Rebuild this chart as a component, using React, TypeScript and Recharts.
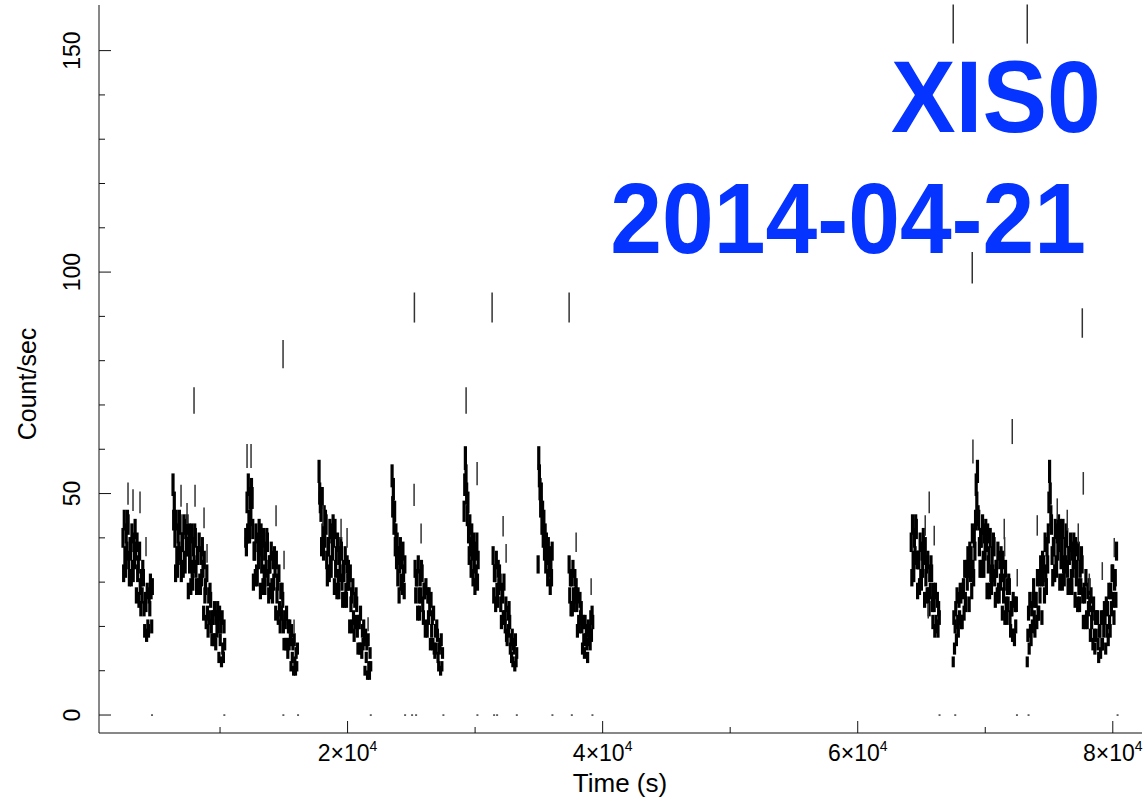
import React from "react";
import { ScatterChart, Scatter, XAxis, YAxis, ErrorBar } from "recharts";

// XIS0 light curve of 2014-04-21, rates every 50 s
const BIN_STEP = 50;
const BIN_SEC = 8; // exposure of one bin, sets the Poisson error bars

const seg1Start = 2392;
const seg1 = [40, 32, 44, 36, 33, 41, 37, 44, 43, 35, 31, 38, 37, 31, 41, 33, 32, 39, 35, 42,
  37, 27, 39, 32, 34, 26, 37, 29, 24, 31, 27, 33, 31, 24, 19, 26, 25, 18, 28, 20, 19, 27,
  24, 30, 28, 20, 29];

const seg2Start = 6314;
const seg2 = [52, 44, 48, 40, 32, 44, 36, 33, 41, 37, 44, 43, 36, 32, 39, 39, 33, 43, 35, 34,
  42, 38, 43, 38, 28, 41, 34, 37, 29, 41, 33, 30, 38, 34, 41, 40, 33, 29, 36, 36, 29, 39,
  30, 29, 36, 31, 38, 33, 23, 35, 27, 29, 21, 32, 23, 19, 27, 22, 28, 26, 20, 17, 22, 22,
  17, 24, 17, 16, 22, 19, 24, 20, 13, 23, 17, 20, 12, 22, 15, 13, 20, 16];

const seg3Start = 12016;
const seg3 = [40, 38, 48, 41, 52, 44, 41, 49, 45, 51, 49, 42, 30, 37, 37, 31, 41, 32, 31, 39,
  35, 42, 38, 28, 41, 34, 37, 29, 40, 32, 29, 37, 33, 40, 39, 31, 27, 34, 34, 28, 37, 29,
  27, 35, 30, 36, 33, 23, 35, 27, 30, 22, 32, 24, 20, 28, 23, 28, 26, 20, 16, 22, 21, 16,
  23, 16, 14, 20, 16, 20, 17, 11, 19, 13, 16, 10, 17, 12, 10, 14, 11, 15];

const seg4Start = 17765;
const seg4 = [55, 50, 48, 46, 38, 49, 41, 37, 45, 40, 44, 43, 35, 31, 38, 38, 32, 42, 34, 33,
  41, 37, 43, 40, 29, 42, 33, 36, 28, 39, 31, 28, 36, 32, 38, 37, 30, 26, 33, 32, 26, 36,
  28, 26, 34, 30, 33, 30, 20, 32, 25, 27, 20, 29, 22, 18, 26, 21, 27, 25, 19, 15, 21, 21,
  15, 23, 15, 14, 19, 16, 20, 17, 10, 18, 13, 16, 9, 17, 11, 9, 14, 11];

const seg5Start = 23490;
const seg5 = [54, 47, 51, 43, 46, 38, 41, 35, 39, 31, 36, 27, 34, 38, 30, 35, 29, 37, 32, 28, 34];

const seg6Start = 25294;
const seg6 = [33, 27, 31, 31, 23, 34, 27, 23, 31, 27, 33, 32, 25, 22, 28, 28, 19, 29, 20, 19,
  27, 22, 27, 24, 16, 26, 19, 22, 16, 23, 15, 14, 19, 15, 20, 18, 13, 11, 15, 16, 10, 17, 11, 14];

const seg7Start = 29137;
const seg7 = [46, 52, 58, 54, 50, 45, 48, 41, 36, 43, 38, 33, 41, 37, 31, 39, 34, 29, 37, 32, 39, 30, 35];

const seg8Start = 31412;
const seg8 = [36, 27, 32, 32, 25, 35, 28, 26, 33, 29, 32, 30, 25, 21, 28, 27, 22, 30, 22, 20,
  25, 18, 17, 23, 19, 24, 21, 15, 17, 13, 18, 12, 16, 15, 11, 17, 12, 14];

const seg9Start = 34941;
const seg9 = [34, 58, 54, 51, 47, 50, 43, 46, 40, 44, 37, 41, 34, 39, 36, 31, 38, 33, 36, 29, 35, 31, 37];

const seg10Start = 37372;
const seg10 = [34, 27, 31, 24, 31, 24, 33, 27, 25, 31, 27, 29, 25, 19, 27, 21, 20, 26, 22, 24,
  20, 15, 21, 17, 14, 21, 17, 19, 16, 13, 20, 17, 19, 16, 22, 18, 23, 21];

const seg11Start = 64195;
const seg11 = [39, 31, 43, 35, 32, 40, 36, 43, 42, 35, 28, 35, 35, 29, 39, 31, 30, 37, 33, 40,
  36, 26, 38, 31, 34, 27, 35, 27, 24, 32, 28, 34, 32, 25, 21, 28, 25, 19, 28, 21, 20, 26, 19, 24, 22];

const seg12Start = 67489;
const seg12 = [12, 22, 15, 20, 24, 17, 27, 21, 19, 26, 22, 28, 27, 21, 21, 28, 29, 23, 33, 26,
  25, 33, 30, 36, 33, 25, 37, 32, 36, 28, 41, 33, 31, 40, 37, 44, 52, 48, 55, 45, 44, 38,
  33, 40, 40, 33, 43, 35, 33, 41, 37, 42, 39, 28, 41, 34, 36, 28, 40, 32, 29, 36, 32, 39,
  38, 31, 26, 33, 33, 27, 37, 28, 27, 35, 30, 36, 32, 23, 35, 27, 30, 22, 33, 25, 22, 29,
  25, 30, 29, 22, 19, 24, 24, 18, 26, 18, 17, 25, 20, 25];

const seg13Start = 73293;
const seg13 = [12, 18, 23, 15, 26, 19, 17, 24, 20, 26, 29, 22, 19, 26, 26, 21, 31, 23, 23, 31,
  27, 34, 31, 22, 35, 31, 34, 27, 39, 32, 29, 38, 34, 41, 48, 55, 50, 45, 43, 36, 31, 38,
  38, 32, 42, 34, 33, 41, 37, 43, 39, 30, 42, 35, 38, 30, 42, 34, 31, 38, 34, 41, 40, 33,
  29, 36, 36, 29, 39, 31, 29, 37, 33, 39, 35, 26, 38, 31, 33, 25, 37, 29, 25, 33, 29, 36,
  34, 27, 21, 28, 27, 21, 31, 22, 21, 28, 24, 29, 25, 18, 27, 21, 23, 16, 25, 18, 15, 22,
  18, 22, 22, 16, 13, 19, 19, 14, 22, 16, 16, 22, 19, 24, 22, 15, 25, 19, 24, 17, 28, 21,
  19, 28, 24, 32, 32, 26, 22, 30, 31, 26, 37];

const segments: [number, number[]][] = [
  [seg1Start, seg1], [seg2Start, seg2], [seg3Start, seg3], [seg4Start, seg4],
  [seg5Start, seg5], [seg6Start, seg6], [seg7Start, seg7], [seg8Start, seg8],
  [seg9Start, seg9], [seg10Start, seg10], [seg11Start, seg11], [seg12Start, seg12],
  [seg13Start, seg13],
];

// lone bins standing clear of the main band: [time, rate]
const isolated: [number, number][] = [
  [2785, 50], [3177, 48.5], [3726, 48], [4196, 38], [6942, 49.5], [7413, 45.5],
  [7961, 71], [8040, 49.5], [8746, 44.5], [8981, 36.5], [12118, 58.5], [12432, 58.5],
  [14392, 45], [14941, 81.5], [15019, 35], [15804, 20], [18078, 45], [19490, 42],
  [19961, 40], [21608, 20.5], [25216, 49.7], [25240, 92], [25765, 41], [29294, 71],
  [30157, 54.5], [31333, 92], [32196, 42.6], [32431, 36.5], [37372, 92], [37921, 39],
  [39098, 29], [65293, 42.8], [65529, 23.5], [65607, 48], [65999, 40.5], [67489, 156],
  [68980, 101], [69034, 59.5], [71489, 42], [71520, 38], [72117, 64], [72509, 31],
  [73293, 156], [74078, 42.8], [75646, 46.5], [76430, 44], [77293, 41], [77609, 88.5],
  [77687, 52.3], [78157, 30], [79176, 32.5], [80116, 37.8],
];

// bins with no counts
const zeroBins = [4667, 10337, 14965, 16118, 21820, 24510, 25059, 25373, 27513, 30180,
  31490, 31725, 33271, 36062, 37584, 39200, 66415, 67646, 72486, 73395, 80375];

const xTicks = [10000, 20000, 30000, 40000, 50000, 60000, 70000, 80000];
const yTicks = [0, 10, 20, 30, 40, 50, 60, 70, 80, 90, 100, 110, 120, 130, 140, 150];

const withErr = (t: number, rate: number) => ({ t, rate, err: Math.sqrt(rate / BIN_SEC) });
const bandPoints = segments.flatMap(([start, vals]) => vals.map((rate, i) => withErr(start + i * BIN_STEP, rate)));
const lonePoints = isolated.map(([t, rate]) => withErr(t, rate));
const zeros = zeroBins.map((t) => ({ t, rate: 0 }));

const FONT = "'Liberation Sans', Arial, Helvetica, sans-serif";
const INK = "#111";
const BLUE = "#0533ff";

const BottomTick = (props: any) => {
  const { x, y, payload } = props;
  const major = payload.value % 20000 === 0;
  return (
    <g>
      <line x1={x} x2={x} y1={y} y2={y - (major ? 12 : 6)} stroke={INK} />
      {major && (
        <text x={x} y={y + 28} textAnchor="middle" fontSize={23} fontFamily={FONT} fill="#000">
          {payload.value / 10000}×10
          <tspan dy={-10} fontSize={14}>4</tspan>
        </text>
      )}
    </g>
  );
};

const TopTick = (props: any) => {
  const { x, y, payload } = props;
  const major = payload.value % 20000 === 0;
  return <line x1={x} x2={x} y1={y} y2={y + (major ? 12 : 6)} stroke={INK} />;
};

const LeftTick = (props: any) => {
  const { x, y, payload } = props;
  const major = payload.value % 50 === 0;
  return (
    <g>
      <line x1={x} x2={x + (major ? 12 : 6)} y1={y} y2={y} stroke={INK} />
      {major && (
        <text x={x - 19} y={y} transform={`rotate(-90, ${x - 19}, ${y})`} textAnchor="middle"
          fontSize={23} fontFamily={FONT} fill="#000">
          {payload.value}
        </text>
      )}
    </g>
  );
};

const RightTick = (props: any) => {
  const { x, y, payload } = props;
  const major = payload.value % 50 === 0;
  return <line x1={x} x2={x - (major ? 12 : 6)} y1={y} y2={y} stroke={INK} />;
};

const NoMark = () => <g />;
const ZeroMark = (props: any) => <rect x={props.cx - 1} y={props.cy - 0.6} width={2} height={1.3} fill="#222" />;

export default function App() {
  const xDomain = [510, 82290];
  const yDomain = [-4.06, 160.3];
  return (
    <div style={{ position: "fixed", left: 0, top: 0, width: 1143, height: 801, background: "#fff" }}>
      <ScatterChart width={1143} height={801} margin={{ top: 5, right: 1, bottom: 0, left: 0 }}>
        <XAxis xAxisId="b" type="number" dataKey="t" domain={xDomain} ticks={xTicks} interval={0}
          allowDataOverflow height={68} tickSize={0} tickMargin={0} tick={<BottomTick />}
          axisLine={{ stroke: INK }} />
        <XAxis xAxisId="top" orientation="top" type="number" dataKey="t" domain={xDomain} ticks={xTicks}
          interval={0} allowDataOverflow height={0} tickSize={0} tickMargin={0} tick={<TopTick />}
          axisLine={{ stroke: INK }} />
        <YAxis yAxisId="l" type="number" dataKey="rate" domain={yDomain} ticks={yTicks} interval={0}
          allowDataOverflow width={99} tickSize={0} tickMargin={0} tick={<LeftTick />}
          axisLine={{ stroke: INK }} />
        <YAxis yAxisId="r" orientation="right" type="number" dataKey="rate" domain={yDomain} ticks={yTicks}
          interval={0} allowDataOverflow width={0} tickSize={0} tickMargin={0} tick={<RightTick />}
          axisLine={{ stroke: INK }} />
        <Scatter data={bandPoints} xAxisId="b" yAxisId="l" shape={NoMark} isAnimationActive={false}>
          <ErrorBar dataKey="err" direction="y" width={0} stroke="#000" strokeWidth={3.2} isAnimationActive={false} />
        </Scatter>
        <Scatter data={lonePoints} xAxisId="b" yAxisId="l" shape={NoMark} isAnimationActive={false}>
          <ErrorBar dataKey="err" direction="y" width={0} stroke="#333" strokeWidth={1.5} isAnimationActive={false} />
        </Scatter>
        <Scatter data={zeros} xAxisId="b" yAxisId="l" shape={ZeroMark} isAnimationActive={false} />
      </ScatterChart>
      <svg width={1143} height={801} style={{ position: "absolute", left: 0, top: 0, pointerEvents: "none" }}>
        <text x={36} y={384} transform="rotate(-90, 36, 384)" textAnchor="middle" fontSize={25} fontFamily={FONT}>
          Count/sec
        </text>
        <text x={620} y={792} textAnchor="middle" fontSize={26} fontFamily={FONT}>Time (s)</text>
        <text transform="translate(1101, 132) scale(0.95, 1)" textAnchor="end" fontSize={102}
          fontWeight="bold" fontFamily={FONT} fill={BLUE}>
          XIS0
        </text>
        <text transform="translate(1086, 253) scale(0.93, 1)" textAnchor="end" fontSize={100}
          fontWeight="bold" fontFamily={FONT} fill={BLUE}>
          2014-04-21
        </text>
      </svg>
    </div>
  );
}
